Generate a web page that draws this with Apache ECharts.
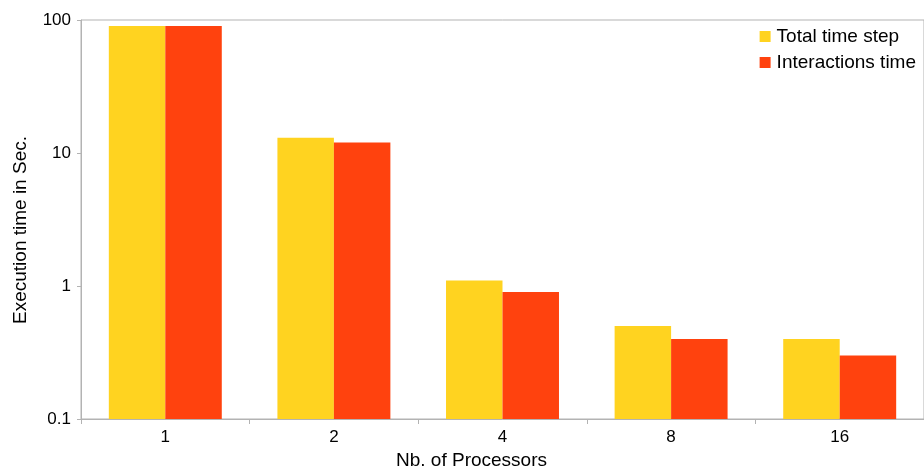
<!DOCTYPE html>
<html>
<head>
<meta charset="utf-8">
<script src="https://cdn.jsdelivr.net/npm/echarts@6/dist/echarts.min.js"></script>
<style>html,body{margin:0;padding:0;background:#fff}#c{width:924px;height:468px}</style>
</head>
<body>
<div id="c"></div>
<script>
const categories = ['1', '2', '4', '8', '16'];
const totalTimeStep = [90, 13, 1.1, 0.5, 0.4];
const interactionsTime = [90, 12, 0.9, 0.4, 0.3];
const yTickLabels = ['0.1', '1', '10', '100'];
const seriesNames = ['Total time step', 'Interactions time'];

const FONT = 'Liberation Sans, Arial, sans-serif';
const GRAY = '#b3b3b3';
const chart = echarts.init(document.getElementById('c'), null, {renderer: 'canvas'});
chart.setOption({
  animation: false,
  color: ['#ffd320', '#ff420e'],
  grid: {left: 81, right: 0, top: 20, bottom: 49, outerBoundsMode: 'none', containLabel: false,
         show: true, borderColor: GRAY, borderWidth: 1, backgroundColor: 'transparent'},
  legend: {
    orient: 'vertical', right: 3, top: 22, align: 'left',
    itemWidth: 11, itemHeight: 11, itemGap: 7,
    icon: 'rect',
    textStyle: {fontFamily: FONT, fontSize: 19, color: '#000', padding: [0, 0, 0, 1]},
    data: seriesNames
  },
  xAxis: {
    type: 'category', data: categories,
    name: 'Nb. of Processors', nameLocation: 'middle', nameGap: 23,
    nameTextStyle: {fontFamily: FONT, fontSize: 19, color: '#000', verticalAlign: 'top', padding: [0, 62, 0, 0]},
    axisLine: {lineStyle: {color: GRAY}},
    axisTick: {show: true, length: 5, lineStyle: {color: GRAY}},
    axisLabel: {fontFamily: FONT, fontSize: 17, color: '#000', margin: 10}
  },
  yAxis: {
    type: 'log', logBase: 10, min: 0.1, max: 100, startValue: 0.1,
    name: 'Execution time in Sec.', nameLocation: 'middle', nameGap: 51,
    nameTextStyle: {fontFamily: FONT, fontSize: 19, color: '#000', padding: [0, 21, 0, 0]},
    axisLine: {show: true, lineStyle: {color: GRAY}},
    axisTick: {show: true, length: 4, lineStyle: {color: GRAY}},
    splitLine: {show: false},
    axisLabel: {
      fontFamily: FONT, fontSize: 17, color: '#000', margin: 10,
      formatter: function (v) {
        const i = Math.round(Math.log10(v)) + 1;
        return yTickLabels[i] !== undefined ? yTickLabels[i] : String(v);
      }
    }
  },
  series: [
    {name: seriesNames[0], type: 'bar', data: totalTimeStep, barGap: '0%', barCategoryGap: '33%'},
    {name: seriesNames[1], type: 'bar', data: interactionsTime, barGap: '0%', barCategoryGap: '33%'}
  ]
});
</script>
</body>
</html>
